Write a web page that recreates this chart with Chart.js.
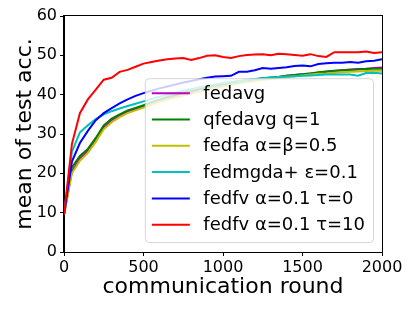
<!DOCTYPE html>
<html>
<head>
<meta charset="utf-8">
<script src="https://cdn.jsdelivr.net/npm/chart.js@4.4.0/dist/chart.umd.min.js"></script>
<style>
  html, body { margin: 0; padding: 0; background: #fff; }
  canvas { display: block; }
</style>
</head>
<body>
<canvas id="accChart" width="415" height="311"></canvas>
<script>
// communication rounds (x values)
const rounds = [0, 50, 100, 150, 200, 250, 300, 350, 400, 450, 500, 550, 600, 650, 700, 750, 800, 850, 900, 950,
  1000, 1050, 1100, 1150, 1200, 1250, 1300, 1350, 1400, 1450, 1500, 1550, 1600, 1650, 1700, 1750, 1800, 1850, 1900, 1950, 2000];

// mean test accuracy
const fedavg = [9.5, 20.5, 23.8, 25.8, 28.5, 31.8, 33.5, 34.7, 35.7, 36.4, 37.1, 37.9, 38.6, 39.2, 39.8, 40.3, 40.8, 41.3, 41.8, 42.2,
  42.6, 43.0, 43.3, 43.6, 43.9, 44.1, 44.3, 44.5, 44.8, 45.0, 45.2, 45.4, 45.6, 45.8, 46.0, 46.2, 46.4, 46.5, 46.6, 46.8, 46.9];
const qfedavg = [9.5, 21.5, 24.4, 26.2, 29.0, 32.2, 33.9, 35.0, 36.0, 36.6, 37.3, 38.1, 38.8, 39.4, 40.0, 40.5, 41.0, 41.5, 41.9, 42.3,
  42.7, 43.0, 43.3, 43.6, 43.9, 44.1, 44.3, 44.5, 44.8, 45.0, 45.2, 45.4, 45.7, 45.9, 46.1, 46.2, 46.3, 46.4, 46.5, 46.6, 46.6];
const fedfa = [9.5, 20.0, 23.2, 25.2, 28.0, 31.2, 33.0, 34.3, 35.3, 36.0, 36.7, 37.5, 38.2, 38.8, 39.3, 39.8, 40.3, 40.8, 41.3, 41.7,
  42.1, 42.5, 42.9, 43.2, 43.5, 43.8, 44.0, 44.3, 44.5, 44.7, 44.9, 45.1, 45.3, 45.4, 45.6, 45.7, 45.8, 45.9, 46.0, 46.1, 46.1];
const fedmgda = [9.5, 25.5, 30.4, 32.2, 33.8, 35.0, 35.8, 36.5, 37.1, 37.7, 38.3, 38.9, 39.5, 40.0, 40.5, 41.0, 41.4, 41.8, 42.2, 42.6,
  42.9, 43.2, 43.5, 43.8, 44.0, 44.2, 44.4, 44.5, 44.6, 44.7, 44.8, 44.9, 45.0, 45.1, 45.1, 45.1, 45.1, 44.8, 45.5, 45.6, 45.4];
const fedfvTau0 = [9.5, 23.0, 27.7, 30.8, 33.5, 35.3, 36.6, 37.8, 38.8, 39.7, 40.4, 41.0, 41.6, 42.1, 42.6, 43.1, 43.5, 43.9, 44.3, 44.6,
  44.7, 44.8, 45.8, 45.8, 46.2, 46.8, 46.6, 46.8, 47.0, 47.3, 47.4, 47.2, 47.8, 48.0, 48.1, 48.1, 48.3, 48.1, 48.5, 48.6, 49.0];
const fedfvTau10 = [9.5, 27.5, 35.3, 38.8, 41.3, 43.8, 44.3, 45.8, 46.3, 47.1, 47.9, 48.3, 48.7, 49.0, 49.2, 49.3, 48.8, 49.3, 49.9, 50.0,
  49.6, 49.3, 49.8, 50.1, 50.2, 50.3, 50.0, 50.4, 50.3, 50.1, 49.9, 50.3, 49.8, 49.6, 50.8, 50.8, 50.8, 50.8, 51.0, 50.6, 50.8];

const seriesNames = ['fedavg', 'qfedavg q=1', 'fedfa α=β=0.5', 'fedmgda+ ε=0.1', 'fedfv α=0.1 τ=0', 'fedfv α=0.1 τ=10'];
const seriesData = [fedavg, qfedavg, fedfa, fedmgda, fedfvTau0, fedfvTau10];
const seriesColors = ['#bf00bf', '#008000', '#bfbf00', '#00bfbf', '#0000ff', '#ff0000'];

const xTicks = [0, 500, 1000, 1500, 2000];
const yTicks = [0, 10, 20, 30, 40, 50, 60];

const FONT = "'DejaVu Sans', sans-serif";

// matplotlib style: box around the axes + legend in the lower right corner
const frameLegend = {
  id: 'frameLegend',
  afterDatasetsDraw(chart) {
    const ctx = chart.ctx;
    const ca = chart.chartArea;
    const fs = 18;
    const rowH = 26.3;
    ctx.save();
    ctx.font = fs + 'px ' + FONT;
    let maxW = 0;
    chart.data.datasets.forEach(ds => { maxW = Math.max(maxW, ctx.measureText(ds.label).width); });
    const w = 7 + 38 + 13.5 + maxW + 8;
    const h = rowH * chart.data.datasets.length + 6;
    const right = ca.right - 9;
    const bottom = ca.bottom - 10;
    const left = right - w;
    const top = bottom - h;

    ctx.beginPath();
    ctx.roundRect(left + 0.5, top + 0.5, w, h, 4);
    ctx.fillStyle = 'rgba(255,255,255,0.8)';
    ctx.fill();
    ctx.strokeStyle = 'rgba(204,204,204,0.8)';
    ctx.lineWidth = 1;
    ctx.stroke();

    ctx.textBaseline = 'middle';
    ctx.fillStyle = '#000';
    chart.data.datasets.forEach((ds, i) => {
      const y = top + 15 + i * rowH;
      ctx.beginPath();
      ctx.moveTo(left + 7, y);
      ctx.lineTo(left + 45, y);
      ctx.strokeStyle = ds.borderColor;
      ctx.lineWidth = 2;
      ctx.stroke();
      ctx.fillText(ds.label, left + 58.5, y + 1);
    });
    ctx.restore();
  },
  afterDraw(chart) {
    const ctx = chart.ctx;
    const ca = chart.chartArea;
    ctx.save();
    ctx.strokeStyle = '#000';
    ctx.lineWidth = 1;
    ctx.strokeRect(Math.round(ca.left) - 0.5, Math.round(ca.top) - 0.5, ca.right - ca.left + 1, ca.bottom - ca.top + 1);
    ctx.restore();
  }
};

const datasets = seriesNames.map((name, i) => ({
  label: name,
  data: rounds.map((r, j) => ({ x: r, y: seriesData[i][j] })),
  borderColor: seriesColors[i],
  backgroundColor: seriesColors[i],
  borderWidth: 2,
  pointRadius: 0,
  tension: 0,
  fill: false,
  order: seriesNames.length - i
}));

new Chart(document.getElementById('accChart'), {
  type: 'line',
  data: { datasets: datasets },
  options: {
    responsive: false,
    animation: false,
    layout: { padding: { top: 16, right: 33, left: 0, bottom: 0 } },
    plugins: {
      legend: { display: false },
      tooltip: { enabled: false }
    },
    scales: {
      x: {
        type: 'linear',
        min: 0,
        max: 2000,
        afterBuildTicks: s => { s.ticks = xTicks.map(v => ({ value: v })); },
        afterFit: s => { s.height = 59; },
        ticks: { color: '#000', font: { family: FONT, size: 16 }, padding: 2, maxRotation: 0, callback: v => String(v) },
        grid: { drawOnChartArea: false, tickLength: 4, color: '#000' },
        border: { color: '#000' },
        title: { display: true, text: 'communication round', color: '#000', font: { family: FONT, size: 22 }, padding: { top: 0, bottom: 11 } }
      },
      y: {
        min: 0,
        max: 60,
        afterBuildTicks: s => { s.ticks = yTicks.map(v => ({ value: v })); },
        afterFit: s => { s.width = 64; },
        ticks: { color: '#000', font: { family: FONT, size: 16 }, padding: 3, callback: v => String(v) },
        grid: { drawOnChartArea: false, tickLength: 4, color: '#000' },
        border: { color: '#000' },
        title: { display: true, text: 'mean of test acc.', color: '#000', font: { family: FONT, size: 22 }, padding: { top: 12, bottom: 0 } }
      }
    }
  },
  plugins: [frameLegend]
});
</script>
</body>
</html>
